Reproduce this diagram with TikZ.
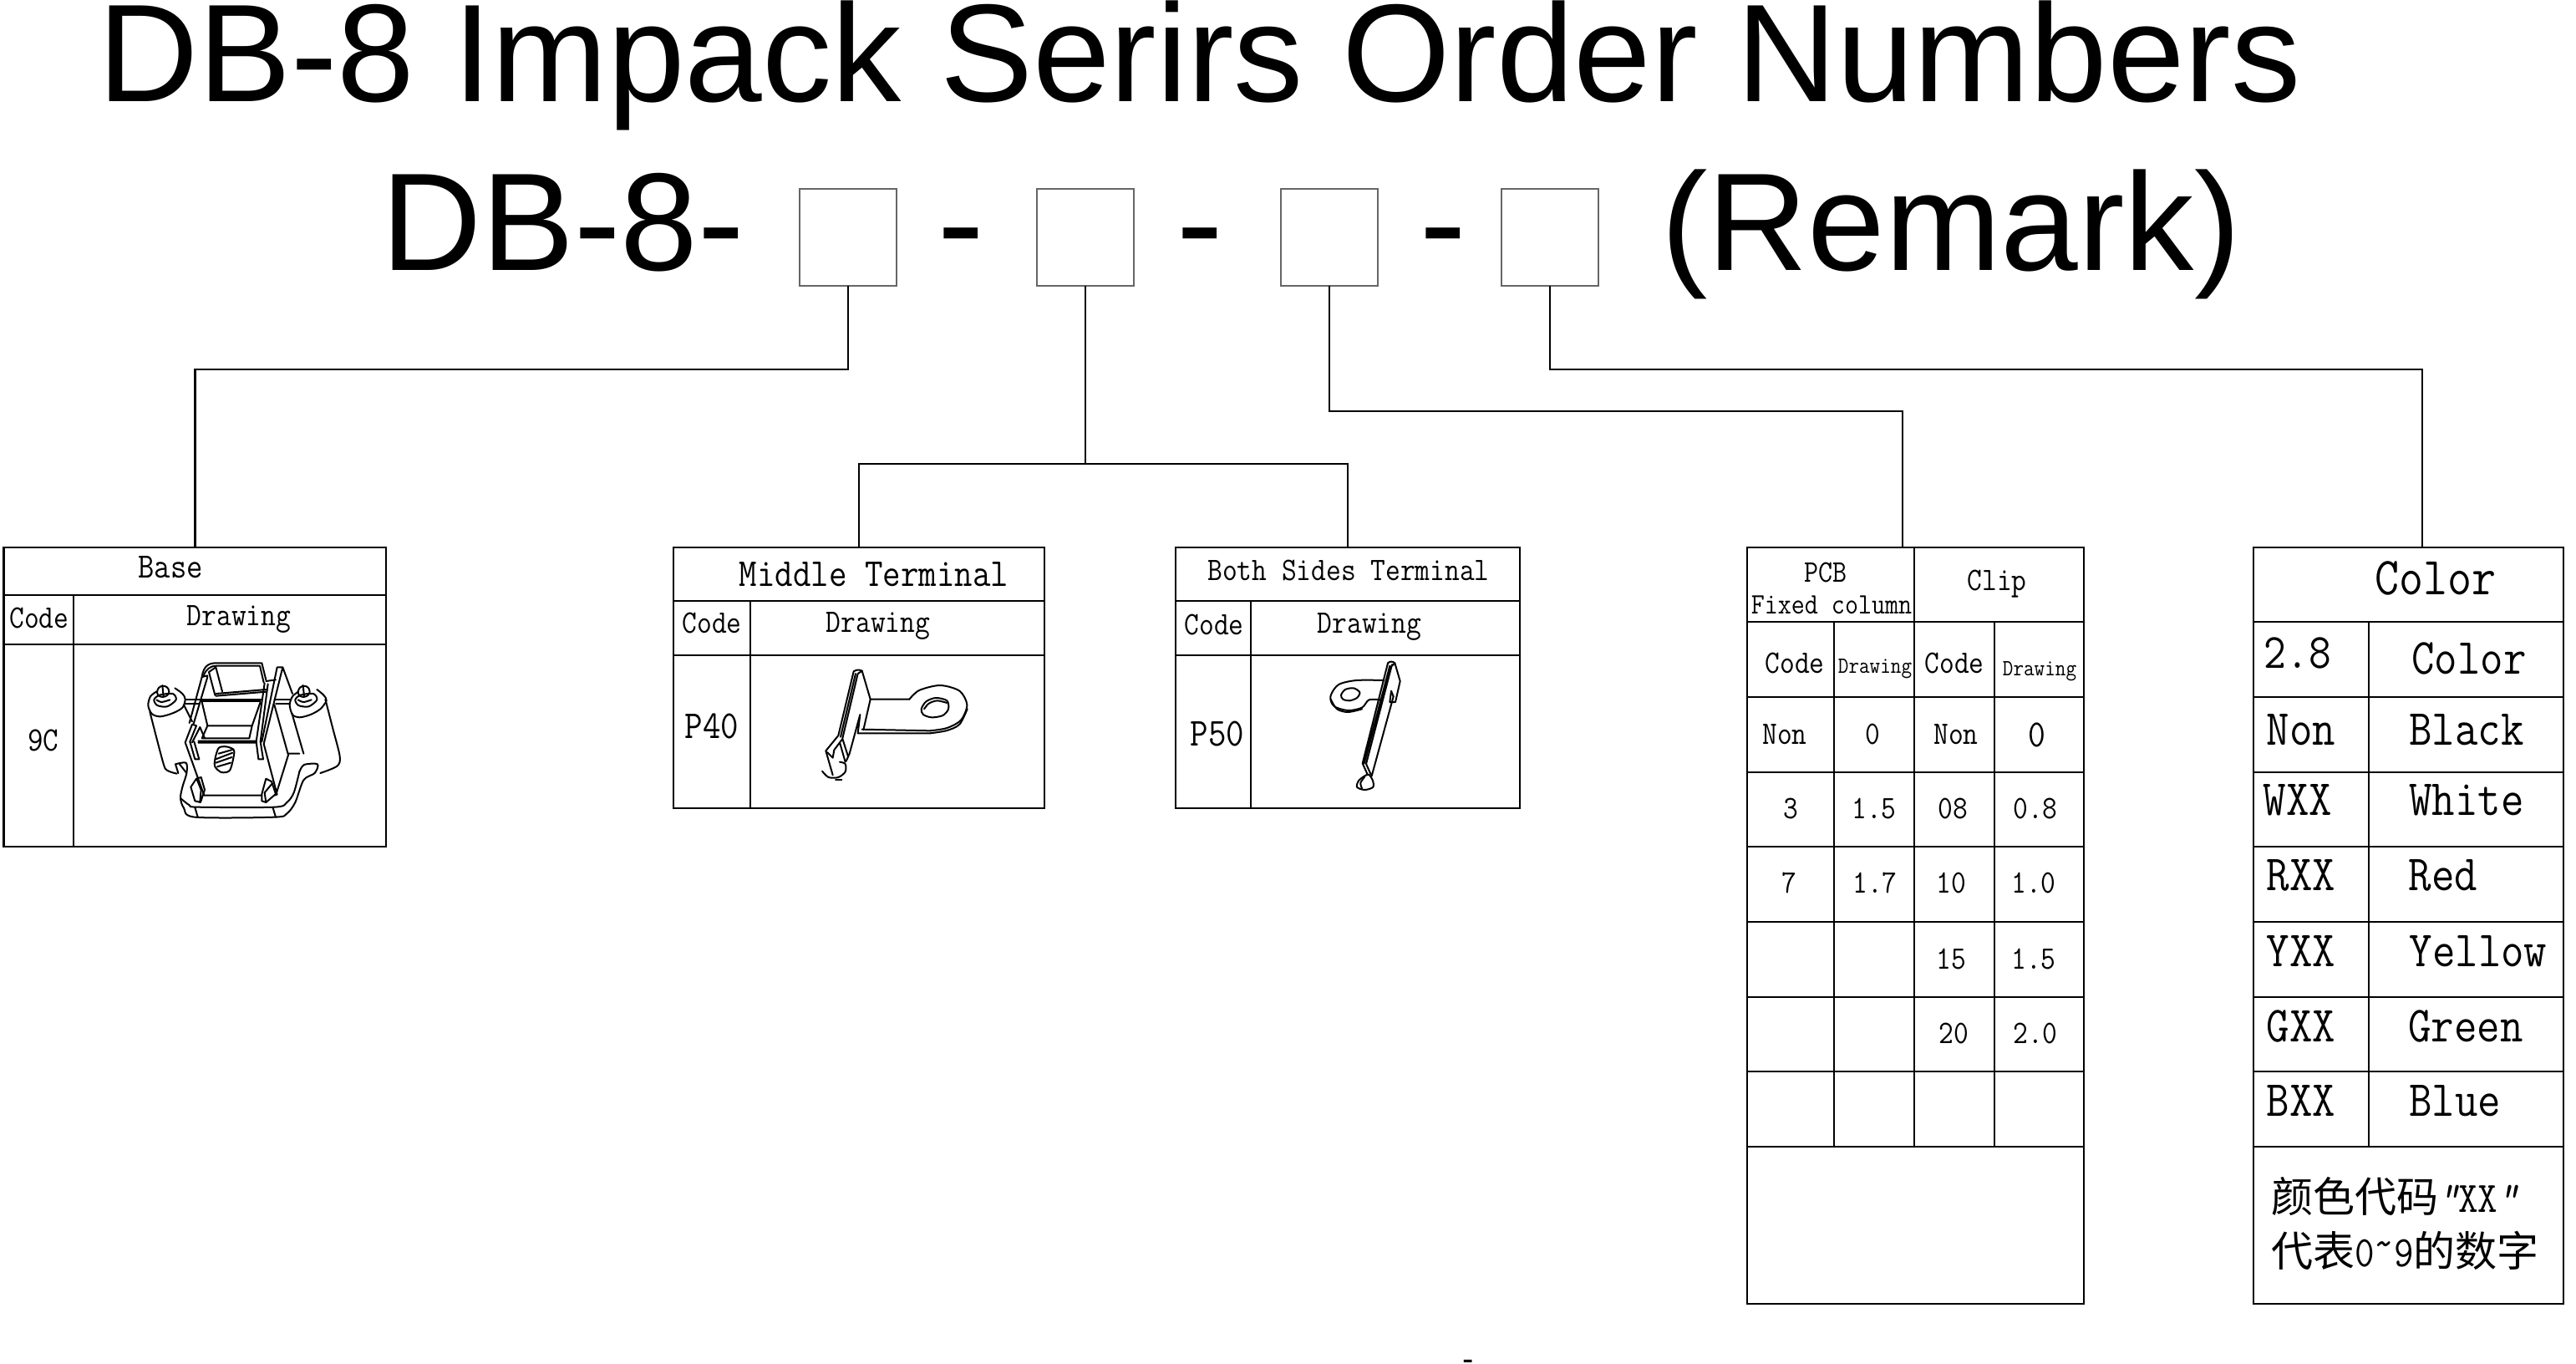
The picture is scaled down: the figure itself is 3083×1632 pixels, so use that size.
\documentclass[tikz,border=0pt]{standalone}
\usepackage{fontspec}
\setmonofont[FakeStretch=0.88]{Latin Modern Mono}
\newfontfamily\arial{Liberation Sans}
\newfontfamily\cjk{Noto Sans CJK SC}
\newcommand{\lat}{\ttfamily\fontsize{26}{26}\selectfont}
\tikzset{
  tx/.style={font=\ttfamily\fontsize{#1}{#1}\selectfont,inner sep=0pt,outer sep=0pt,anchor=base},
  head/.style={font=\arial\fontsize{83.25}{83.25}\selectfont,inner sep=0pt,outer sep=0pt,anchor=base west},
  slot/.style={draw=black!60,line width=0.8pt,fill=white,minimum width=58pt,minimum height=58pt,inner sep=0pt,outer sep=0pt},
  tb/.style={draw=black,line width=1.45pt,inner sep=0pt,outer sep=0pt},
  rule/.style={draw=black,line width=1.4pt},
  link/.style={draw=black,line width=1.3pt},
  art/.style={draw=black,line width=1pt,line join=round,line cap=round}
}
\begin{document}
\begin{tikzpicture}[x=0.5pt,y=-0.5pt]
\useasboundingbox (0,0) rectangle (3083,1632);
% headings
\node[head] (title) at (117,122) {DB-8 Impack Serirs Order Numbers};
\node[head] (pre) at (456,323) {DB-8-};
\node[head] (d1) at (1122,323) {-};
\node[head] (d2) at (1408,323) {-};
\node[head] (d3) at (1699,323) {-};
\node[head] (rem) at (1988,323) {(Remark)};
\node[slot] (b1) at (1015,284) {};
\node[slot] (b2) at (1299,284) {};
\node[slot] (b3) at (1591,284) {};
\node[slot] (b4) at (1855,284) {};
% tables
\node[tb,minimum width=228.75pt,minimum height=179pt] (t1) at (233.25,834) {};
\node[tb,minimum width=222pt,minimum height=156pt] (t2) at (1028,811) {};
\node[tb,minimum width=206pt,minimum height=156pt] (t3) at (1613,811) {};
\node[tb,minimum width=201.5pt,minimum height=452.5pt] (t4) at (2292.5,1107.5) {};
\node[tb,minimum width=185.5pt,minimum height=452.5pt] (t5) at (2882.5,1107.5) {};
% connectors
\coordinate (j1) at (1015,442);
\coordinate (j2) at (1299,555);
\coordinate (j3) at (1591,492);
\coordinate (j4) at (1855,442);
\coordinate (p4) at (2277,655);
\coordinate (p5) at (2899,655);
\draw[link] (b1.south) |- (j1) -| (t1.north);
\draw[link] (b2.south) -- (j2);
\draw[link] (t2.north) |- (j2) -| (t3.north);
\draw[link] (b3.south) |- (j3) -| (p4);
\draw[link] (b4.south) |- (j4) -| (p5);
% table rules
\draw[rule] (4.5,712) -- (462,712) (4.5,771) -- (462,771) (88,712) -- (88,1013);
\draw[rule] (806,719) -- (1250,719) (806,784) -- (1250,784) (898,719) -- (898,967);
\draw[rule] (1407,719) -- (1819,719) (1407,784) -- (1819,784) (1497,719) -- (1497,967);
\draw[rule] (2091,744) -- (2494,744) (2091,834) -- (2494,834) (2091,924) -- (2494,924) (2091,1013) -- (2494,1013)
  (2091,1103) -- (2494,1103) (2091,1193) -- (2494,1193) (2091,1282) -- (2494,1282) (2091,1372) -- (2494,1372)
  (2291,655) -- (2291,1372) (2195,744) -- (2195,1372) (2387,744) -- (2387,1372);
\draw[rule] (2697,744) -- (3068,744) (2697,834) -- (3068,834) (2697,924) -- (3068,924) (2697,1013) -- (3068,1013)
  (2697,1103) -- (3068,1103) (2697,1193) -- (3068,1193) (2697,1282) -- (3068,1282) (2697,1372) -- (3068,1372)
  (2835,744) -- (2835,1372);
% table 1 text
\node[tx=21.3] (a1) at (204,691) {Base};
\node[tx=19.6] (a2) at (47,751) {Code};
\node[tx=19.6] (a3) at (286,748) {Drawing};
\node[tx=20.5] (a4) at (52,898) {9C};
% table 2 text
\node[tx=23.7] (m1) at (1046,701) {Middle Terminal};
\node[tx=19.6] (m2) at (852,757) {Code};
\node[tx=19.6] (m3) at (1051,756) {Drawing};
\node[tx=23.7] (m4) at (852,883) {P40};
% table 3 text
\node[tx=19.6] (s1) at (1614,694) {Both Sides Terminal};
\node[tx=19.6] (s2) at (1453,759) {Code};
\node[tx=19.6] (s3) at (1639,757) {Drawing};
\node[tx=23.7] (s4) at (1457,892) {P50};
% table 4 text
\node[tx=18.8] (q1) at (2185,696) {PCB};
\node[tx=17.7] (q2) at (2192,734) {Fixed column};
\node[tx=19.6] (q3) at (2390,706) {Clip};
\node[tx=19.6] (q4) at (2148,805) {Code};
\node[tx=13.9] (q5) at (2244,805) {Drawing};
\node[tx=19.6] (q6) at (2339,805) {Code};
\node[tx=13.9] (q7) at (2441,808) {Drawing};
\node[tx=19.6] (r1) at (2136,890) {Non};
\node[tx=19.6] (r2) at (2241,890) {0};
\node[tx=19.6] (r3) at (2341,890) {Non};
\node[tx=23] (r4) at (2438,893) {0};
\node[tx=19.6] (r5) at (2143,979) {3};
\node[tx=19.6] (r6) at (2243,979) {1.5};
\node[tx=19.6] (r7) at (2337,979) {08};
\node[tx=19.6] (r8) at (2436,979) {0.8};
\node[tx=19.6] (r9) at (2141,1068) {7};
\node[tx=19.6] (r10) at (2244,1068) {1.7};
\node[tx=19.6] (r11) at (2335,1068) {10};
\node[tx=19.6] (r12) at (2434,1068) {1.0};
\node[tx=19.6] (r13) at (2335,1159) {15};
\node[tx=19.6] (r14) at (2434,1159) {1.5};
\node[tx=19.6] (r15) at (2338,1248) {20};
\node[tx=19.6] (r16) at (2436,1248) {2.0};
% table 5 text
\node[tx=32] (c1) at (2915,711) {Color};
\node[tx=29.5] (c2) at (2750,799) {2.8};
\node[tx=30.3] (c3) at (2955,806) {Color};
\node[tx=30.3] (c4) at (2754,891) {Non};
\node[tx=30.3] (c5) at (2952,891) {Black};
\node[tx=30.3] (c6) at (2750,975) {WXX};
\node[tx=30.3] (c7) at (2952,975) {White};
\node[tx=30.3] (c8) at (2754,1065) {RXX};
\node[tx=30.3] (c9) at (2924,1065) {Red};
\node[tx=30.3] (c10) at (2754,1156) {YXX};
\node[tx=30.3] (c11) at (2966,1156) {Yellow};
\node[tx=30.3] (c12) at (2754,1246) {GXX};
\node[tx=30.3] (c13) at (2951,1246) {Green};
\node[tx=30.3] (c14) at (2754,1335) {BXX};
\node[tx=30.3] (c15) at (2938,1335) {Blue};
\node[tx=25,anchor=base west] (c16) at (2718,1450) {{\cjk 颜色代码}{\lat{\itshape "}XX{\itshape "}}};
\node[tx=25,anchor=base west] (c17) at (2718,1515) {{\cjk 代表}{\lat 0\raisebox{0.2em}{\textasciitilde}9}{\cjk 的数字}};
\node[font=\arial\fontsize{20}{20}\selectfont,inner sep=0pt,anchor=base] (dot) at (1757,1639) {-};
% base drawing
\begin{scope}[shift={(150,780)},x=0.16667pt,y=-0.16667pt]
% left post
\path[art] plot[smooth] coordinates {(112,142) (90,160) (82,192) (95,222) (125,232) (170,220) (205,200) (215,170) (205,150) (178,130)};
\path[art] plot[smooth cycle] coordinates {(103,172) (122,155) (170,150) (182,172) (150,196) (115,192)};
\path[art] plot[smooth] coordinates {(112,172) (130,180) (160,172)};
\path[art] (114,145) .. controls (115,115) and (155,115) .. (157,142) .. controls (157,165) and (116,170) .. (114,145) (133,120) -- (137,160);
\path[art] plot[smooth] coordinates {(88,215) (135,395) (150,425) (185,437)};
\path[art] (210,190) -- (240,250);
% right post
\path[art] plot[smooth] coordinates {(622,142) (600,160) (590,190) (600,225) (625,235) (665,225) (700,205) (722,175) (712,155) (688,135)};
\path[art] plot[smooth cycle] coordinates {(610,172) (628,155) (675,150) (688,172) (658,196) (622,192)};
\path[art] plot[smooth] coordinates {(620,172) (640,180) (668,172)};
\path[art] (620,145) .. controls (622,115) and (660,115) .. (662,142) .. controls (662,165) and (622,170) .. (620,145) (638,120) -- (642,160);
\path[art] (598,220) -- (640,365);
\path[art] plot[smooth] coordinates {(718,170) (745,275) (770,375) (760,410) (700,435)};
% cross bars
\path[art] (215,170) -- (270,170) (215,185) -- (265,185) (535,170) -- (595,170) (540,187) -- (590,187);
% cage
\path[art] (275,90) .. controls (280,55) and (295,40) .. (325,40) -- (490,40) -- (505,100);
\path[art] (281,85) .. controls (290,62) and (305,50) .. (328,50) -- (483,50) -- (497,110);
\path[art] (300,72) -- (325,55) -- (348,142) (300,72) -- (322,155) (325,150) -- (505,135) (325,158) -- (505,143);
\path[art] (275,90) -- (230,255) (295,90) -- (245,258) (275,90) -- (295,85);
\path[art] (270,170) -- (490,170) (272,178) -- (485,178);
\path[art] (275,180) -- (295,265) -- (455,265) -- (485,180);
\path[art] (295,265) -- (275,310) -- (445,310) -- (455,265) (262,320) -- (470,320) (262,326) -- (470,326);
\path[art] (215,325) -- (240,260) -- (255,265) -- (232,322) (240,325) -- (268,270) -- (285,310);
\path[art] (232,322) -- (250,385) -- (265,385) -- (247,322);
\path[art] (470,322) -- (478,385) -- (495,385) -- (485,322);
\path[art] (500,112) -- (470,322) (512,115) -- (485,322) (505,105) -- (540,100);
\path[art] (545,55) -- (490,322) (545,55) -- (565,55) -- (497,330) (565,55) -- (600,150);
\path[art] (535,190) -- (585,370) -- (540,515) (497,330) -- (545,512) (585,365) -- (625,365);
\path[art] (215,325) -- (283,515) -- (490,515);
% clips
\path[art] (235,485) -- (255,455) -- (272,450) -- (285,495) -- (270,540) -- (250,535) -- cycle (258,460) -- (272,495) -- (268,538);
\path[art] (490,510) -- (505,455) -- (525,465) -- (540,510) -- (505,540) -- (490,535) -- cycle (500,505) -- (525,475) (500,505) -- (505,540);
% screw
\path[art] plot[smooth cycle] coordinates {(335,345) (362,340) (388,350) (390,370) (375,425) (345,432) (322,412) (322,385)};
\path[art] (325,385) -- (385,362) (325,398) -- (382,378) (330,412) -- (378,398) (335,365) -- (388,350);
% base plate
\path[art] plot[smooth] coordinates {(180,403) (218,398) (220,435) (205,485) (198,525) (210,560) (250,593) (535,593) (580,580) (610,540) (640,460) (680,435) (690,403) (642,405) (625,430)};
\path[art] plot[smooth] coordinates {(198,525) (230,550) (260,557) (535,557) (580,540) (605,505) (625,430)};
\path[art] (250,558) -- (260,593) (530,560) -- (540,593) (180,403) -- (190,435) (195,403) -- (220,435);
\end{scope}
% P40 drawing
\begin{scope}[shift={(800,640)},x=0.16667pt,y=-0.16667pt]
\path[art] plot[smooth] coordinates {(865,590) (900,558) (975,540) (1045,560) (1072,610) (1050,665) (1000,693) (940,703)};
\path[art] plot[smooth] coordinates {(1073,625) (1045,680) (1000,702) (940,712)};
\path[art] (725,590) -- (865,590) (695,698) -- (940,703) (680,712) -- (940,712);
\path[art] plot[smooth cycle] coordinates {(908,625) (925,598) (960,585) (1000,595) (1005,625) (985,648) (945,655) (915,645)};
\path[art] plot[smooth] coordinates {(918,625) (935,605) (965,595) (1000,603)};
\path[art] (665,490) -- (610,720) -- (565,775) -- (590,862) (665,490) .. controls (675,483) and (685,483) .. (695,488) -- (725,590) -- (700,700);
\path[art] (680,498) -- (625,730) (672,498) -- (618,725) (680,498) -- (695,488);
\path[art] (688,645) -- (650,785) -- (638,812) (688,645) -- (680,712);
\path[art] (625,732) -- (595,772) -- (590,800) -- (570,780) (625,732) -- (645,795) (615,745) -- (635,815);
\path[art] plot[smooth] coordinates {(552,848) (575,870) (610,870) (635,850) (635,822) (615,815)};
\path[art] (600,880) -- (622,880);
\end{scope}
% P50 drawing
\begin{scope}[shift={(1400,640)},x=0.16667pt,y=-0.16667pt]
\path[art] plot[smooth] coordinates {(770,522) (670,522) (605,538) (577,580) (590,615) (640,630) (690,620) (715,592) (755,592)};
\path[art] plot[smooth] coordinates {(578,590) (600,625) (640,636) (690,625)};
\path[art] plot[smooth cycle] coordinates {(615,575) (630,555) (660,550) (682,565) (672,585) (645,595) (622,590)};
\path[art] (783,460) .. controls (790,453) and (800,453) .. (808,460) -- (827,525) -- (810,600) -- (790,600) -- (795,560) -- (803,580);
\path[art] (783,460) -- (692,820) -- (710,860) (790,470) -- (698,820) (798,465) -- (705,822) -- (722,860) (808,460) -- (798,470) (803,580) -- (725,865);
\path[art] plot[smooth cycle] coordinates {(712,860) (680,880) (672,905) (700,915) (730,905) (728,880)};
\path[art] plot[smooth] coordinates {(700,868) (685,890) (690,910)};
\end{scope}
\end{tikzpicture}
\end{document}
